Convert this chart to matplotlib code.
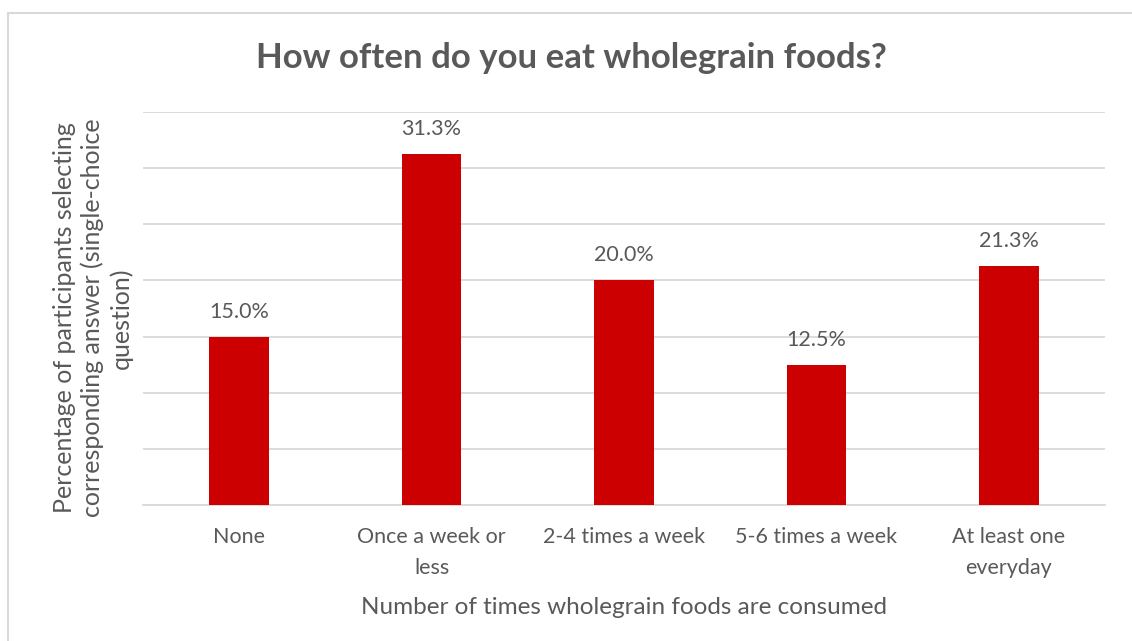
import matplotlib.pyplot as plt
from matplotlib.patches import Rectangle

categories = ['None', 'Once a week or\nless', '2-4 times a week',
              '5-6 times a week', 'At least one\neveryday']
percentages = [15.0, 31.3, 20.0, 12.5, 21.3]

plt.rcParams['font.family'] = ['Lato', 'DejaVu Sans']
text_color = '#595959'
grid_color = '#d9d9d9'
bar_color = '#cc0000'

W, H = 1132, 641
fig = plt.figure(figsize=(W / 100, H / 100), dpi=100)

# chart frame (runs off the right and bottom edge like the screenshot)
fig.patches.append(Rectangle((8 / W, -0.1), 1.2, 1.1 - 13 / H,
                             transform=fig.transFigure, fill=False,
                             edgecolor=grid_color, linewidth=1.5))

# plot area in pixels: x 143..1105, y 112..505
ax = fig.add_axes([143 / W, 1 - 505 / H, (1105 - 143) / W, (505 - 112) / H])

x = range(len(categories))
bars = ax.bar(x, percentages, width=0.31, color=bar_color, zorder=3)

for i, v in enumerate(percentages):
    ax.annotate(f'{v:.1f}%', (i, v), xytext=(0, 18), textcoords='offset points',
                ha='center', va='center', fontsize=15.5, color=text_color)

ax.set_xlim(-0.5, len(categories) - 0.5)
ax.set_ylim(0, 35)
ax.set_yticks(range(0, 36, 5))
ax.set_yticklabels([])
ax.tick_params(axis='y', length=0)
ax.grid(axis='y', color=grid_color, linewidth=1.3, zorder=0)

ax.set_xticks(list(x))
ax.set_xticklabels(categories, fontsize=15.5, color=text_color, linespacing=1.65)
ax.tick_params(axis='x', length=0, pad=16)

for s in ['top', 'right', 'left']:
    ax.spines[s].set_visible(False)
ax.spines['bottom'].set_color(grid_color)
ax.spines['bottom'].set_linewidth(1.3)

ax.set_xlabel('Number of times wholegrain foods are consumed',
              fontsize=17.5, color=text_color, labelpad=14)

fig.text(93 / W, 1 - 318 / H,
         'Percentage of participants selecting\ncorresponding answer (single-choice\nquestion)',
         rotation=90, ha='center', va='center', ma='center',
         fontsize=18, color=text_color, linespacing=1.25)

fig.text(571 / W, 1 - 58 / H, 'How often do you eat wholegrain foods?',
         ha='center', va='center', fontsize=25, fontweight='bold',
         color=text_color)

fig.savefig('out.png', dpi=100)
